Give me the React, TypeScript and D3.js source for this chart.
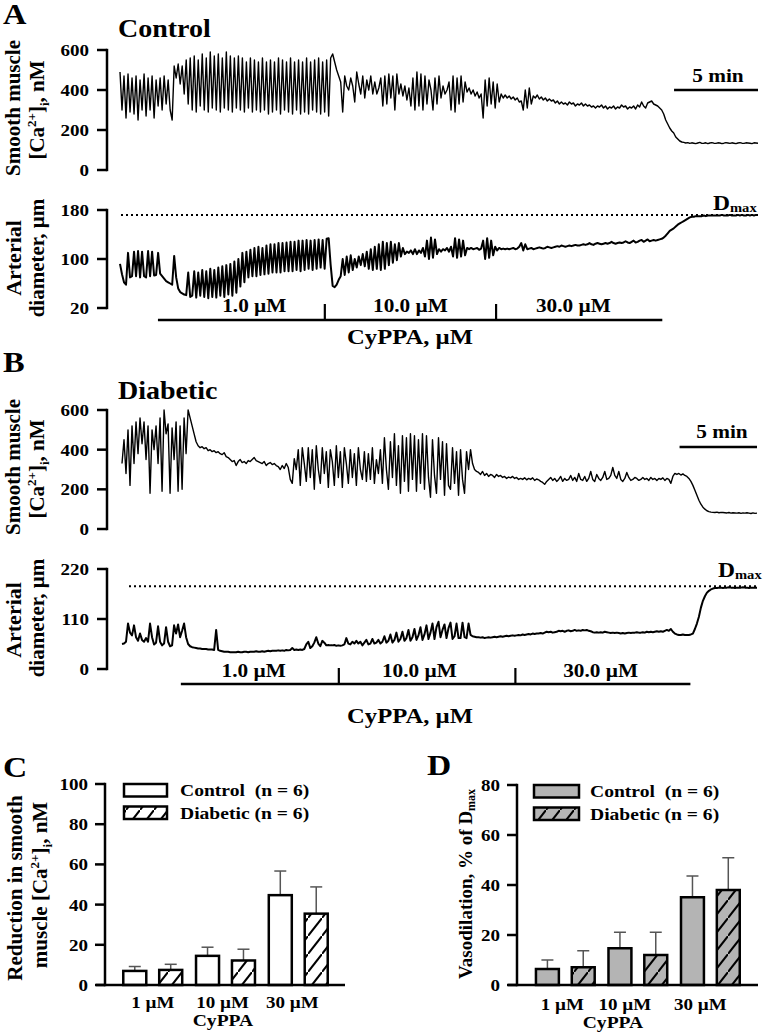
import React from "react";
import * as d3 from "d3";

// ---------------- data ----------------
// Traces: samples evenly spaced over the recording duration (minutes)
const ctrlCa = [
  490,300,470,260,480,290,460,280,470,250,450,300,480,270,460,300,470,260,450,320,460,300,470,330,450,300,250,
  520,460,530,430,520,380,550,330,560,300,570,290,550,320,580,300,560,290,590,310,570,300,580,290,560,310,590,300,570,290,
  560,310,570,300,560,290,540,310,560,290,550,300,540,290,560,300,540,280,550,290,540,300,560,280,550,300,540,290,560,280,
  540,300,550,280,540,290,560,280,540,300,550,290,560,280,540,290,550,270,
  560,580,540,500,470,440,290,470,420,400,460,420,340,490,430,380,470,360,450,400,470,380,440,380,410,
  460,320,470,330,480,360,470,300,480,380,430,370,420,350,410,320,460,300,490,320,480,300,470,330,450,
  400,300,460,330,470,360,420,380,400,440,300,470,290,460,330,470,340,440,390,410,380,400,370,390,360,380,260,450,320,460,
  330,440,310,430,340,380,
  360,375,360,370,355,365,350,360,340,345,300,400,310,410,330,370,360,375,355,365,350,360,345,355,345,350,335,345,330,340,
  330,335,325,340,330,335,320,330,325,335,320,330,320,325,315,320,310,320,315,325,310,320,305,315,310,320,305,315,310,325,
  315,320,305,315,310,320,305,325,315,340,320,310,335,340,345,330,325,320,310,300,
  280,250,230,210,195,185,165,155,145,140,138,135,
  137,133,136,134,132,135,138,133,134,136,132,135,137,134,133,136,135,132,134,137,135,133,136,134,132,135,137,134,133,136,
  135,134,132,136,135,134
];
const ctrlDiam = [
  92,75,62,58,110,70,72,112,72,113,70,112,72,70,113,72,112,73,74,110,76,72,68,64,62,60,58,
  105,70,52,46,44,42,41,78,38,40,80,37,78,40,82,38,80,36,84,38,82,37,86,40,88,38,90,42,92,40,96,45,100,
  55,110,62,112,70,115,72,118,72,120,74,118,75,122,76,124,78,124,78,126,78,126,80,127,80,128,80,128,82,130,
  80,130,82,131,84,130,82,131,84,132,86,131,84,133,134,
  90,56,54,58,66,72,100,74,104,78,106,82,100,86,104,90,108,88,112,84,116,82,120,84,124,
  82,128,84,126,90,128,94,124,98,126,104,118,108,112,110,114,108,116,108,114,110,118,104,130,100,
  135,102,132,108,116,112,116,114,118,112,120,104,134,102,132,104,130,106,118,116,118,116,117,118,115,117,130,100,134,102,
  130,106,120,114,118,116,
  117,116,117,116,117,118,116,117,120,126,114,124,116,117,118,116,117,118,119,118,117,118,120,119,118,119,120,121,120,122,
  121,120,121,122,121,122,123,122,122,123,124,123,124,126,124,123,125,126,125,124,125,126,125,126,128,126,125,126,127,126,
  127,129,127,126,128,130,127,128,130,131,128,130,132,129,130,131,130,131,132,133,
  135,138,142,146,148,150,153,156,158,160,162,164,166,168,169,
  169,170,170,170,170,171,170,171,171,171,171,171,171,171,172,171,171,171,172,171,171,171,172,171,172,171,171,172,171,172,
  171,172,172
];
const diabCa = [
  330,450,280,500,220,520,330,540,380,560,430,540,350,520,180,500,400,520,330,560,190,600,480,530,180,510,350,540,190,520,
  200,560,380,600,
  560,520,480,440,420,410,415,405,410,395,400,390,395,385,390,380,375,385,365,360,350,340,345,320,340,350,335,340,330,345,
  340,350,360,345,340,335,330,340,320,330,335,325,330,320,315,300,320,305,330,310,
  250,230,355,300,400,220,410,330,240,410,260,400,200,420,300,230,410,280,390,210,400,340,220,420,260,390,210,410,330,230,
  400,260,380,220,410,300,250,390,240,380,250,410,230,350,280,400,230,460,300,200,440,260,480,220,420,180,470,240,460,190,
  480,250,470,190,450,230,480,200,470,260,160,450,270,180,460,250,440,170,430,220,200,410,230,390,170,400,250,180,390,300,
  400,330,
  300,290,285,275,290,270,280,265,275,270,260,275,265,270,260,265,255,262,258,265,255,260,250,255,250,258,248,255,250,258,
  245,252,248,240,235,225,240,250,260,245,255,240,250,265,240,255,245,250,270,245,260,240,280,250,245,265,240,255,290,250,
  240,275,255,245,260,290,250,255,270,310,270,255,290,250,240,255,285,260,245,250,260,255,245,250,260,250,255,245,260,250,
  255,245,255,250,258,245,255,250,230,
  265,280,275,280,272,278,270,265,255,240,220,195,170,145,125,110,100,92,88,85,
  84,83,85,82,84,83,82,81,83,80,82,81,80,82,79,81,80,82,80,78,81,79,80
];
const diabDiam = [
  55,56,60,100,80,74,96,70,62,78,64,60,68,60,100,70,54,58,94,60,52,56,92,60,50,52,96,78,98,70,84,100,70,55,
  50,48,47,46,45,45,44,44,44,43,43,43,42,86,42,40,39,38,38,38,37,37,37,37,38,37,37,38,38,37,
  38,38,38,39,38,38,39,38,39,40,39,40,40,40,41,40,41,40,42,41,42,46,42,43,42,43,42,44,
  54,60,46,50,58,70,56,50,62,58,52,53,52,52,53,51,52,51,52,54,68,56,54,60,56,62,56,60,52,58,
  64,54,56,66,56,58,64,56,60,72,58,62,76,58,64,80,60,66,82,62,68,86,62,70,88,64,74,92,64,76,
  96,66,80,100,66,92,104,70,86,98,68,90,102,66,72,100,68,68,102,70,68,100,75,72,
  71,70,70,69,70,68,69,70,69,70,71,70,71,72,71,72,73,72,73,74,73,74,75,74,76,75,76,77,76,78,
  77,78,78,79,78,80,82,81,82,80,81,82,84,83,84,82,84,85,83,84,86,84,85,84,86,85,86,84,83,81,
  80,81,80,81,80,82,81,80,79,80,79,80,79,78,79,78,79,80,79,80,80,81,80,80,81,80,82,81,82,81,
  82,83,82,83,82,84,86,84,88,82,78,76,75,75,76,75,75,75,76,
  78,88,100,115,135,150,160,168,172,175,177,178,
  178,179,179,178,179,179,180,179,179,178,179,179,179,180,179,179,178,179,179,179,179
];

const ctrlDuration = 38; // minutes
const diabDuration = 41;
const ctrlDmax = 172;
const diabDmax = 182;
const caTicks = [0, 200, 400, 600];
const ctrlDiamTicks = [20, 100, 180];
const diabDiamTicks = [0, 110, 220];
const traceDoseLabels = ["1.0 µM", "10.0 µM", "30.0 µM"];
const ctrlDoseBounds = [2.26, 12.2, 22.4, 32.3];
const diabDoseBounds = [3.8, 14.0, 25.4, 36.7];
const ctrlDoseLabelT = [8.0, 17.3, 27.0];
const diabDoseLabelT = [8.5, 19.2, 30.9];
const scaleBarMin = 5;
const ctrlScaleBarStart = 33;
const diabScaleBarStart = 36;

const doses = ["1 µM", "10 µM", "30 µM"];
const groups = ["Control", "Diabetic"];
const legendLabels = ["Control  (n = 6)", "Diabetic (n = 6)"];
const caRedCtrl = [7.0, 14.5, 44.7];
const caRedCtrlErr = [2.2, 4.3, 12.0];
const caRedDiab = [7.5, 12.2, 35.5];
const caRedDiabErr = [2.8, 5.6, 13.3];
const vasoCtrl = [6.4, 14.7, 35.1];
const vasoCtrlErr = [3.6, 6.4, 8.5];
const vasoDiab = [7.1, 12.0, 38.0];
const vasoDiabErr = [6.6, 9.1, 12.9];
const cTicks = [0, 20, 40, 60, 80, 100];
const dTicks = [0, 20, 40, 60, 80];

// ---------------- helpers ----------------
const FONT = "'Liberation Serif', 'Times New Roman', serif";
const SX = 1.12;
const GRAY = "#b4b4b4";

function HText({ x, y, size, anchor = "start", children }: any) {
  return (
    <text
      transform={`translate(${x},${y}) scale(${SX},1)`}
      fontSize={size}
      textAnchor={anchor}
      fontWeight="bold"
      fontFamily={FONT}
      style={{ whiteSpace: "pre" }}
    >
      {children}
    </text>
  );
}

function VText({ x, y, size, children }: any) {
  return (
    <text
      transform={`translate(${x},${y}) rotate(-90)`}
      fontSize={size}
      textAnchor="middle"
      fontWeight="bold"
      fontFamily={FONT}
    >
      {children}
    </text>
  );
}

function CaLabel({ x, y, size }: any) {
  const s = Math.round(size * 0.62);
  return (
    <VText x={x} y={y} size={size}>
      [Ca<tspan dy={-8} fontSize={s}>2+</tspan>
      <tspan dy={8}>]</tspan>
      <tspan dy={5} fontSize={s}>i</tspan>
      <tspan dy={-5}>, nM</tspan>
    </VText>
  );
}

function YAxis({ scale, ticks, x, labelX, tickLen = 10, size = 17 }: any) {
  return (
    <g>
      <line x1={x} x2={x} y1={scale(ticks[0]) + 1.2} y2={scale(ticks[ticks.length - 1]) - 1.2} stroke="#000" strokeWidth={2.5} />
      {ticks.map((t: number) => (
        <g key={t}>
          <line x1={x - tickLen} x2={x} y1={scale(t)} y2={scale(t)} stroke="#000" strokeWidth={2.5} />
          <HText x={labelX} y={scale(t) + 6} size={size} anchor="end">{t}</HText>
        </g>
      ))}
    </g>
  );
}

function tracePath(values: number[], x: any, y: any, duration: number) {
  const dt = duration / (values.length - 1);
  return d3
    .line<number>()
    .x((_, i) => x(i * dt))
    .y((d) => y(d))(values) as string;
}

function DoseBar({ x, bounds, lineY, labelT, labelY }: any) {
  return (
    <g>
      <line x1={x(bounds[0])} x2={x(bounds[3])} y1={lineY} y2={lineY} stroke="#000" strokeWidth={2.5} />
      {[bounds[1], bounds[2]].map((b: number, i: number) => (
        <line key={i} x1={x(b)} x2={x(b)} y1={lineY - 16} y2={lineY} stroke="#000" strokeWidth={2.2} />
      ))}
      {traceDoseLabels.map((l, i) => (
        <HText key={l} x={x(labelT[i])} y={labelY} size={19} anchor="middle">{l}</HText>
      ))}
    </g>
  );
}

function BarPanel(props: any) {
  const {
    ctrl, ctrlErr, diab, diabErr, yMax, ticks, yTop, yBottom, axisX, labelX,
    xAxisEnd, bandRange, ctrlFill, hatchId, labelShift, legendX, legendW, legendTextX,
    legendY, xLabelY, cyppaX, cyppaY,
  } = props;
  const y = d3.scaleLinear().domain([0, yMax]).range([yBottom, yTop]);
  const xb = d3.scaleBand<string>().domain(doses).range(bandRange).paddingInner(0.19).paddingOuter(0.1);
  const xi = d3.scaleBand<string>().domain(groups).range([0, xb.bandwidth()]).paddingInner(0.36);
  const bw = xi.bandwidth();
  const series = [
    { g: "Control", mean: ctrl, err: ctrlErr, fill: ctrlFill },
    { g: "Diabetic", mean: diab, err: diabErr, fill: `url(#${hatchId})` },
  ];
  return (
    <g>
      {series.map((s) =>
        doses.map((d, i) => {
          const x0 = (xb(d) as number) + (xi(s.g) as number);
          const cx = x0 + bw / 2;
          return (
            <g key={s.g + d}>
              <line x1={cx} x2={cx} y1={y(s.mean[i])} y2={y(s.mean[i] + s.err[i])} stroke="#555" strokeWidth={1.5} />
              <line x1={cx - 6} x2={cx + 6} y1={y(s.mean[i] + s.err[i])} y2={y(s.mean[i] + s.err[i])} stroke="#555" strokeWidth={1.5} />
              <rect x={x0} y={y(s.mean[i])} width={bw} height={y(0) - y(s.mean[i])} fill={s.fill} stroke="#000" strokeWidth={2.5} />
            </g>
          );
        })
      )}
      <line x1={axisX - 9} x2={xAxisEnd} y1={y(0)} y2={y(0)} stroke="#000" strokeWidth={2.5} />
      <YAxis scale={y} ticks={ticks} x={axisX} labelX={labelX} size={17} />
      {doses.map((d, i) => (
        <HText key={d} x={(xb(d) as number) + xb.bandwidth() / 2 + labelShift[i]} y={xLabelY} size={17} anchor="middle">{d}</HText>
      ))}
      <HText x={cyppaX} y={cyppaY} size={17.5} anchor="middle">CyPPA</HText>
      {legendLabels.map((l, i) => (
        <g key={l}>
          <rect x={legendX} y={legendY + i * 22.5} width={legendW} height={12.5}
            fill={i === 0 ? ctrlFill : `url(#${hatchId})`} stroke="#000" strokeWidth={2.5} />
          <HText x={legendTextX} y={legendY + 12 + i * 22.5} size={17.5}>{l}</HText>
        </g>
      ))}
    </g>
  );
}

export default function App() {
  const xA = d3.scaleLinear().domain([0, ctrlDuration]).range([120, 758]);
  const xB = d3.scaleLinear().domain([0, diabDuration]).range([122, 757]);
  const yCaA = d3.scaleLinear().domain([0, 600]).range([170, 50]);
  const yDiA = d3.scaleLinear().domain([20, 180]).range([308, 210]);
  const yCaB = d3.scaleLinear().domain([0, 600]).range([529, 410]);
  const yDiB = d3.scaleLinear().domain([0, 220]).range([669, 569]);

  const hatchPath = "M-14,36 L28,-18";

  return (
    <svg width={763} height={1035} style={{ position: "absolute", left: 0, top: 0, background: "#fff" }}>
      <defs>
        <pattern id="hatchW" patternUnits="userSpaceOnUse" width={14} height={18}>
          <rect width={14} height={18} fill="#fff" />
          <path d={hatchPath} stroke="#000" strokeWidth={2} />
        </pattern>
        <pattern id="hatchG" patternUnits="userSpaceOnUse" width={14} height={18}>
          <rect width={14} height={18} fill={GRAY} />
          <path d={hatchPath} stroke="#000" strokeWidth={2} />
        </pattern>
      </defs>
      <rect width={763} height={1035} fill="#fff" />

      {/* ---------------- Panel A ---------------- */}
      <HText x={3} y={24} size={29}>A</HText>
      <HText x={118} y={37} size={25}>Control</HText>
      <VText x={20} y={108} size={21}>Smooth muscle</VText>
      <CaLabel x={44} y={110} size={21} />
      <YAxis scale={yCaA} ticks={caTicks} x={107} labelX={89} />
      <path d={tracePath(ctrlCa, xA, yCaA, ctrlDuration)} fill="none" stroke="#000" strokeWidth={1.4} strokeLinejoin="round" />
      <line x1={xA(ctrlScaleBarStart)} x2={xA(ctrlScaleBarStart + scaleBarMin)} y1={90} y2={90} stroke="#000" strokeWidth={2.5} />
      <HText x={718} y={82} size={19} anchor="middle">5 min</HText>

      <VText x={21} y={258} size={22}>Arterial</VText>
      <VText x={44} y={258} size={21}>diameter, µm</VText>
      <YAxis scale={yDiA} ticks={ctrlDiamTicks} x={107} labelX={89} />
      <line x1={121} x2={757} y1={yDiA(ctrlDmax)} y2={yDiA(ctrlDmax)} stroke="#000" strokeWidth={2} strokeDasharray="2 3" />
      <HText x={713} y={210} size={21}>D<tspan fontSize={13} dy={2}>max</tspan></HText>
      <path d={tracePath(ctrlDiam, xA, yDiA, ctrlDuration)} fill="none" stroke="#000" strokeWidth={2} strokeLinejoin="round" />
      <DoseBar x={xA} bounds={ctrlDoseBounds} lineY={320} labelT={ctrlDoseLabelT} labelY={312} />
      <HText x={410} y={344} size={22} anchor="middle">CyPPA, µM</HText>

      {/* ---------------- Panel B ---------------- */}
      <HText x={3} y={372} size={29}>B</HText>
      <HText x={118} y={399} size={25}>Diabetic</HText>
      <VText x={20} y={467} size={21}>Smooth muscle</VText>
      <CaLabel x={44} y={469} size={21} />
      <YAxis scale={yCaB} ticks={caTicks} x={107} labelX={89} />
      <path d={tracePath(diabCa, xB, yCaB, diabDuration)} fill="none" stroke="#000" strokeWidth={1.4} strokeLinejoin="round" />
      <line x1={xB(diabScaleBarStart)} x2={xB(diabScaleBarStart + scaleBarMin)} y1={447} y2={447} stroke="#000" strokeWidth={2.5} />
      <HText x={722} y={438} size={19} anchor="middle">5 min</HText>

      <VText x={21} y={620} size={22}>Arterial</VText>
      <VText x={44} y={618} size={21}>diameter, µm</VText>
      <YAxis scale={yDiB} ticks={diabDiamTicks} x={107} labelX={89} />
      <line x1={129} x2={757} y1={yDiB(diabDmax)} y2={yDiB(diabDmax)} stroke="#000" strokeWidth={2} strokeDasharray="2 3" />
      <HText x={718} y={577} size={21}>D<tspan fontSize={13} dy={2}>max</tspan></HText>
      <path d={tracePath(diabDiam, xB, yDiB, diabDuration)} fill="none" stroke="#000" strokeWidth={2} strokeLinejoin="round" />
      <DoseBar x={xB} bounds={diabDoseBounds} lineY={684} labelT={diabDoseLabelT} labelY={677} />
      <HText x={410} y={723} size={22} anchor="middle">CyPPA, µM</HText>

      {/* ---------------- Panel C ---------------- */}
      <HText x={3} y={777} size={30}>C</HText>
      <VText x={22} y={888} size={21}>Reduction in smooth</VText>
      <VText x={47} y={885} size={21}>
        muscle [Ca<tspan dy={-8} fontSize={13}>2+</tspan>
        <tspan dy={8}>]</tspan>
        <tspan dy={5} fontSize={13}>i</tspan>
        <tspan dy={-5}>, nM</tspan>
      </VText>
      <BarPanel
        ctrl={caRedCtrl} ctrlErr={caRedCtrlErr} diab={caRedDiab} diabErr={caRedDiabErr}
        yMax={100} ticks={cTicks} yTop={784} yBottom={985} axisX={105} labelX={88}
        xAxisEnd={345} bandRange={[116, 335]} ctrlFill="#fff" hatchId="hatchW"
        labelShift={[0, -3, -6]} legendX={124} legendW={43} legendTextX={180} legendY={784}
        xLabelY={1008} cyppaX={223} cyppaY={1026}
      />

      {/* ---------------- Panel D ---------------- */}
      <HText x={427} y={775} size={30}>D</HText>
      <VText x={472} y={884} size={19}>
        Vasodilation, % of D<tspan dy={3} fontSize={12}>max</tspan>
      </VText>
      <BarPanel
        ctrl={vasoCtrl} ctrlErr={vasoCtrlErr} diab={vasoDiab} diabErr={vasoDiabErr}
        yMax={80} ticks={dTicks} yTop={785} yBottom={985} axisX={517} labelX={500}
        xAxisEnd={758} bandRange={[528.7, 747]} ctrlFill={GRAY} hatchId="hatchG"
        labelShift={[-3, -13, -10]} legendX={534} legendW={45} legendTextX={590} legendY={785}
        xLabelY={1010} cyppaX={613} cyppaY={1028}
      />
    </svg>
  );
}
